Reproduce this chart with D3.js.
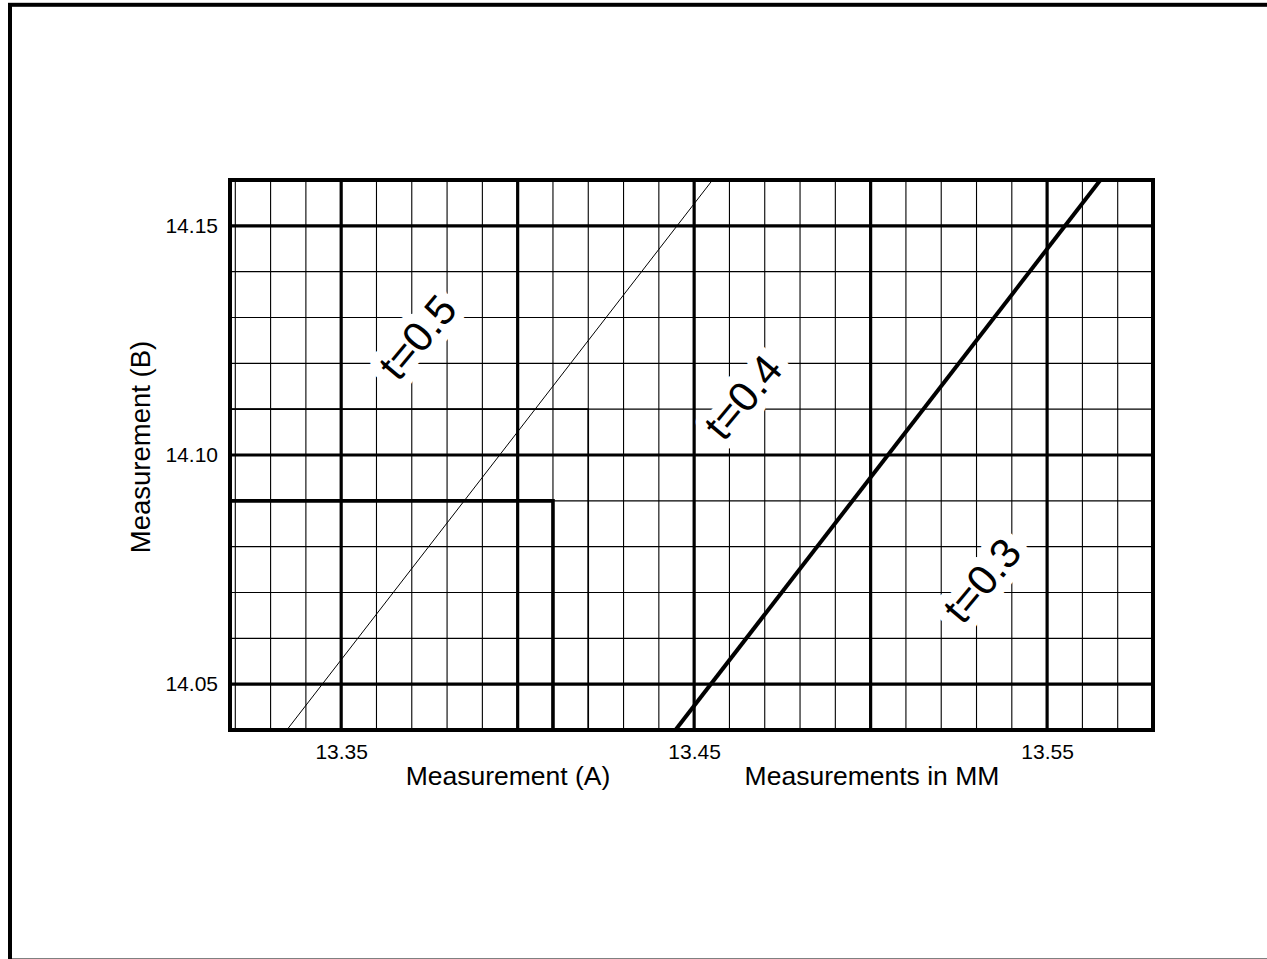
<!DOCTYPE html>
<html>
<head>
<meta charset="utf-8">
<script src="https://cdn.jsdelivr.net/npm/d3@7"></script>
<style>
  html, body { margin: 0; padding: 0; background: #fff; overflow: hidden; }
  svg { display: block; font-family: "Liberation Sans", Arial, Helvetica, sans-serif; }
</style>
</head>
<body>
<svg id="chart" width="1267" height="959"></svg>
<script>
// Axis extents (mm)
const xDomain = [13.3185, 13.58];
const yDomain = [14.04, 14.16];

// Labelled ticks
const xTickLabels = [13.35, 13.45, 13.55];
const yTickLabels = [14.05, 14.10, 14.15];

// Grid lines
const xMajor = [13.35, 13.40, 13.45, 13.50, 13.55];
const yMajor = [14.05, 14.10, 14.15];
const xMinor = [13.32, 13.33, 13.34, 13.36, 13.37, 13.38, 13.39, 13.41, 13.42, 13.43, 13.44,
                13.46, 13.47, 13.48, 13.49, 13.51, 13.52, 13.53, 13.54, 13.56, 13.57];
const yMinor = [14.06, 14.07, 14.08, 14.09, 14.11, 14.12, 14.13, 14.14];

// Thickness curves: measurement A vs measurement B
const lineT05 = [[13.3346, 14.04], [13.4552, 14.16]];
const lineT03 = [[13.4447, 14.04], [13.5651, 14.16]];

// Tolerance corners
const boxOuter = [[13.3185, 14.09], [13.41, 14.09], [13.41, 14.04]];
const boxInner = [[13.3185, 14.11], [13.42, 14.11], [13.42, 14.04]];

// Curve labels
const curveLabels = ["t=0.5", "t=0.4", "t=0.3"];
const curveLabelX = [13.3715, 13.4637, 13.5314];
const curveLabelY = [14.1258, 14.1127, 14.0727];

const svg = d3.select("#chart");
const plot = { left: 230, top: 180, right: 1153, bottom: 730 };

const x = d3.scaleLinear().domain(xDomain).range([plot.left, plot.right]);
const y = d3.scaleLinear().domain(yDomain).range([plot.bottom, plot.top]);

// Outer frame (runs past the right and bottom edges of the page)
svg.append("rect")
  .attr("x", 10).attr("y", 4.8)
  .attr("width", 1280).attr("height", 955.7)
  .attr("fill", "none").attr("stroke", "#000").attr("stroke-width", 4);

svg.append("defs").append("clipPath").attr("id", "plotClip")
  .append("rect")
  .attr("x", plot.left).attr("y", plot.top)
  .attr("width", plot.right - plot.left).attr("height", plot.bottom - plot.top);

const grid = svg.append("g");

// Minor grid
grid.selectAll("line.vmin").data(xMinor).join("line")
  .attr("x1", d => x(d)).attr("x2", d => x(d))
  .attr("y1", plot.top).attr("y2", plot.bottom)
  .attr("stroke", "#000").attr("stroke-width", 1.1);
grid.selectAll("line.hmin").data(yMinor).join("line")
  .attr("y1", d => y(d)).attr("y2", d => y(d))
  .attr("x1", plot.left).attr("x2", plot.right)
  .attr("stroke", "#000").attr("stroke-width", 1.1);

// Major grid
grid.selectAll("line.vmaj").data(xMajor).join("line")
  .attr("x1", d => x(d)).attr("x2", d => x(d))
  .attr("y1", plot.top).attr("y2", plot.bottom)
  .attr("stroke", "#000").attr("stroke-width", 3.2);
grid.selectAll("line.hmaj").data(yMajor).join("line")
  .attr("y1", d => y(d)).attr("y2", d => y(d))
  .attr("x1", plot.left).attr("x2", plot.right)
  .attr("stroke", "#000").attr("stroke-width", 3.2);

const line = d3.line().x(d => x(d[0])).y(d => y(d[1]));
const marks = svg.append("g").attr("clip-path", "url(#plotClip)");

marks.append("path").datum(boxInner).attr("d", line)
  .attr("fill", "none").attr("stroke", "#000").attr("stroke-width", 1.6);
marks.append("path").datum(boxOuter).attr("d", line)
  .attr("fill", "none").attr("stroke", "#000").attr("stroke-width", 3.6);

marks.append("path").datum(lineT05).attr("d", line)
  .attr("fill", "none").attr("stroke", "#000").attr("stroke-width", 1);
marks.append("path").datum(lineT03).attr("d", line)
  .attr("fill", "none").attr("stroke", "#000").attr("stroke-width", 4);

// Plot border
svg.append("rect")
  .attr("x", plot.left).attr("y", plot.top)
  .attr("width", plot.right - plot.left).attr("height", plot.bottom - plot.top)
  .attr("fill", "none").attr("stroke", "#000").attr("stroke-width", 4);

// Curve labels with white halo
const lbl = svg.append("g");
curveLabels.forEach((t, i) => {
  const cx = x(curveLabelX[i]), cy = y(curveLabelY[i]);
  lbl.append("text")
    .attr("transform", `translate(${cx},${cy}) rotate(-50)`)
    .attr("text-anchor", "middle").attr("dy", "0.36em")
    .attr("font-size", 42)
    .attr("fill", "#000")
    .attr("stroke", "#fff").attr("stroke-width", 20)
    .attr("stroke-linejoin", "round")
    .attr("paint-order", "stroke")
    .text(t);
});

// Axes (labels only)
const xAxis = d3.axisBottom(x).tickValues(xTickLabels).tickSize(0)
  .tickFormat(d3.format(".2f")).tickPadding(14);
svg.append("g").attr("transform", `translate(0,${plot.bottom})`).call(xAxis)
  .call(g => g.select(".domain").remove())
  .selectAll("text").attr("font-size", 21).attr("fill", "#000")
  .attr("font-family", "Liberation Sans, Arial, sans-serif");

const yAxis = d3.axisLeft(y).tickValues(yTickLabels).tickSize(0)
  .tickFormat(d3.format(".2f")).tickPadding(12);
svg.append("g").attr("transform", `translate(${plot.left},0)`).call(yAxis)
  .call(g => g.select(".domain").remove())
  .selectAll("text").attr("font-size", 21).attr("fill", "#000")
  .attr("font-family", "Liberation Sans, Arial, sans-serif");

// Axis titles
svg.append("text").attr("x", 508).attr("y", 785)
  .attr("text-anchor", "middle").attr("font-size", 26.5)
  .text("Measurement (A)");
svg.append("text").attr("x", 872).attr("y", 785)
  .attr("text-anchor", "middle").attr("font-size", 26.5)
  .text("Measurements in MM");
svg.append("text")
  .attr("transform", "translate(150,447) rotate(-90)")
  .attr("text-anchor", "middle").attr("font-size", 27.5)
  .text("Measurement (B)");
</script>
</body>
</html>
